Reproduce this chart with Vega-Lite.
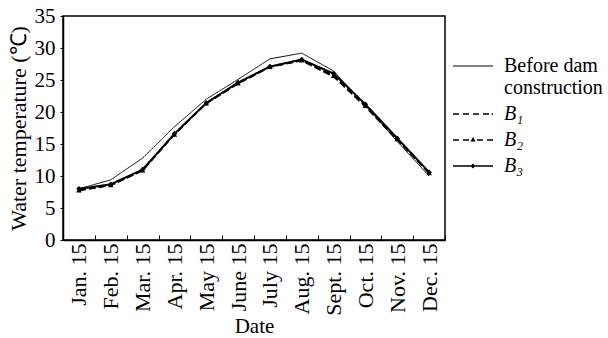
{
  "$schema": "https://vega.github.io/schema/vega-lite/v6.json",
  "width": 382,
  "height": 224,
  "autosize": {"type": "none"},
  "padding": {"left": 63, "top": 16, "right": 163, "bottom": 98},
  "config": {
    "font": "Liberation Serif",
    "view": {"stroke": "black", "strokeWidth": 1.5},
    "axis": {"labelColor": "black", "titleColor": "black", "domainColor": "black", "tickColor": "black", "titleFontWeight": "normal", "grid": false}
  },
  "data": {
    "values": [
      {"date": "Jan. 15", "series": "Before dam construction", "temp": 8.0},
      {"date": "Feb. 15", "series": "Before dam construction", "temp": 9.4},
      {"date": "Mar. 15", "series": "Before dam construction", "temp": 12.8},
      {"date": "Apr. 15", "series": "Before dam construction", "temp": 17.7},
      {"date": "May 15", "series": "Before dam construction", "temp": 22.0},
      {"date": "June 15", "series": "Before dam construction", "temp": 25.1},
      {"date": "July 15", "series": "Before dam construction", "temp": 28.3},
      {"date": "Aug. 15", "series": "Before dam construction", "temp": 29.2},
      {"date": "Sept. 15", "series": "Before dam construction", "temp": 26.4},
      {"date": "Oct. 15", "series": "Before dam construction", "temp": 21.0},
      {"date": "Nov. 15", "series": "Before dam construction", "temp": 15.4},
      {"date": "Dec. 15", "series": "Before dam construction", "temp": 10.0},
      {"date": "Jan. 15", "series": "B₁", "temp": 7.7},
      {"date": "Feb. 15", "series": "B₁", "temp": 8.5},
      {"date": "Mar. 15", "series": "B₁", "temp": 10.8},
      {"date": "Apr. 15", "series": "B₁", "temp": 16.5},
      {"date": "May 15", "series": "B₁", "temp": 21.3},
      {"date": "June 15", "series": "B₁", "temp": 24.4},
      {"date": "July 15", "series": "B₁", "temp": 27.0},
      {"date": "Aug. 15", "series": "B₁", "temp": 28.0},
      {"date": "Sept. 15", "series": "B₁", "temp": 25.5},
      {"date": "Oct. 15", "series": "B₁", "temp": 20.8},
      {"date": "Nov. 15", "series": "B₁", "temp": 15.6},
      {"date": "Dec. 15", "series": "B₁", "temp": 10.4},
      {"date": "Jan. 15", "series": "B₂", "temp": 7.8},
      {"date": "Feb. 15", "series": "B₂", "temp": 8.6},
      {"date": "Mar. 15", "series": "B₂", "temp": 10.9},
      {"date": "Apr. 15", "series": "B₂", "temp": 16.5},
      {"date": "May 15", "series": "B₂", "temp": 21.4},
      {"date": "June 15", "series": "B₂", "temp": 24.5},
      {"date": "July 15", "series": "B₂", "temp": 27.1},
      {"date": "Aug. 15", "series": "B₂", "temp": 28.1},
      {"date": "Sept. 15", "series": "B₂", "temp": 25.7},
      {"date": "Oct. 15", "series": "B₂", "temp": 21.0},
      {"date": "Nov. 15", "series": "B₂", "temp": 15.8},
      {"date": "Dec. 15", "series": "B₂", "temp": 10.5},
      {"date": "Jan. 15", "series": "B₃", "temp": 8.0},
      {"date": "Feb. 15", "series": "B₃", "temp": 8.7},
      {"date": "Mar. 15", "series": "B₃", "temp": 11.0},
      {"date": "Apr. 15", "series": "B₃", "temp": 16.6},
      {"date": "May 15", "series": "B₃", "temp": 21.4},
      {"date": "June 15", "series": "B₃", "temp": 24.6},
      {"date": "July 15", "series": "B₃", "temp": 27.1},
      {"date": "Aug. 15", "series": "B₃", "temp": 28.2},
      {"date": "Sept. 15", "series": "B₃", "temp": 26.0},
      {"date": "Oct. 15", "series": "B₃", "temp": 21.2},
      {"date": "Nov. 15", "series": "B₃", "temp": 15.9},
      {"date": "Dec. 15", "series": "B₃", "temp": 10.6}
    ]
  },
  "encoding": {
    "x": {
      "field": "date", "type": "ordinal",
      "sort": ["Jan. 15", "Feb. 15", "Mar. 15", "Apr. 15", "May 15", "June 15", "July 15", "Aug. 15", "Sept. 15", "Oct. 15", "Nov. 15", "Dec. 15"],
      "scale": {"paddingInner": 0, "paddingOuter": 0},
      "axis": {"title": "Date", "labelAngle": -90, "labelFontSize": 22, "titleFontSize": 21, "tickBand": "extent", "tickSize": -5, "labelPadding": 8, "titlePadding": 0, "domainWidth": 1.5}
    },
    "y": {
      "field": "temp", "type": "quantitative",
      "scale": {"domain": [0, 35], "nice": false},
      "axis": {"title": "Water temperature (℃)", "labelFontSize": 21, "titleFontSize": 22, "values": [0, 5, 10, 15, 20, 25, 30, 35], "tickSize": 3, "labelPadding": 5, "titlePadding": 4, "domainWidth": 1.5}
    }
  },
  "resolve": {"scale": {"shape": "independent"}, "legend": {"shape": "independent"}},
  "layer": [
    {
      "mark": {"type": "line", "color": "black"},
      "encoding": {
        "detail": {"field": "series"},
        "strokeDash": {"field": "series", "scale": {"domain": ["Before dam construction", "B₁", "B₂", "B₃"], "range": [[1, 0], [7, 3], [7, 3], [1, 0]]}, "legend": null},
        "strokeWidth": {"field": "series", "scale": {"domain": ["Before dam construction", "B₁", "B₂", "B₃"], "range": [1, 2, 2, 1.5]}, "legend": null}
      }
    },
    {
      "transform": [{"filter": "datum.series == 'B₂' || datum.series == 'B₃'"}],
      "mark": {"type": "point", "filled": true, "color": "black", "size": 30, "opacity": 1},
      "encoding": {
        "shape": {"field": "series", "scale": {"domain": ["B₂", "B₃"], "range": ["triangle-up", "diamond"]}, "legend": null}
      }
    },
    {
      "transform": [{"filter": "false"}],
      "mark": {"type": "point", "filled": true, "color": "black", "opacity": 1},
      "encoding": {
        "shape": {
          "field": "series",
          "scale": {
            "domain": ["Before dam construction", "B₁", "B₂", "B₃"],
            "range": [
              "M-2,-0.06L2,-0.06L2,0.06L-2,0.06Z",
              "M-2,-0.08L-1.4,-0.08L-1.4,0.08L-2,0.08ZM-1,-0.08L-0.4,-0.08L-0.4,0.08L-1,0.08ZM0,-0.08L0.6,-0.08L0.6,0.08L0,0.08ZM1,-0.08L1.6,-0.08L1.6,0.08L1,0.08ZM1.85,-0.08L2,-0.08L2,0.08L1.85,0.08Z",
              "M-2,-0.08L-1.4,-0.08L-1.4,0.08L-2,0.08ZM-1,-0.08L-0.4,-0.08L-0.4,0.08L-1,0.08ZM0.4,-0.08L1,-0.08L1,0.08L0.4,0.08ZM1.4,-0.08L2,-0.08L2,0.08L1.4,0.08ZM0,-0.3L0.25,0.15L-0.25,0.15Z",
              "M-2,-0.07L2,-0.07L2,0.07L-2,0.07ZM0,-0.25L0.25,0L0,0.25L-0.25,0Z"
            ]
          },
          "legend": {
            "title": null,
            "orient": "none",
            "legendX": 400,
            "legendY": 40,
            "symbolSize": 400,
            "symbolStrokeWidth": 0,
            "symbolFillColor": "black",
            "symbolOpacity": 1,
            "labelFontSize": 20,
            "labelColor": "black",
            "labelOffset": 21,
            "labelLimit": 200,
            "rowPadding": 6,
            "labelFontStyle": {"expr": "datum.value == 'Before dam construction' ? 'normal' : 'italic'"},
            "labelExpr": "datum.value == 'Before dam construction' ? ['Before dam', 'construction'] : datum.label"
          }
        }
      }
    }
  ]
}
